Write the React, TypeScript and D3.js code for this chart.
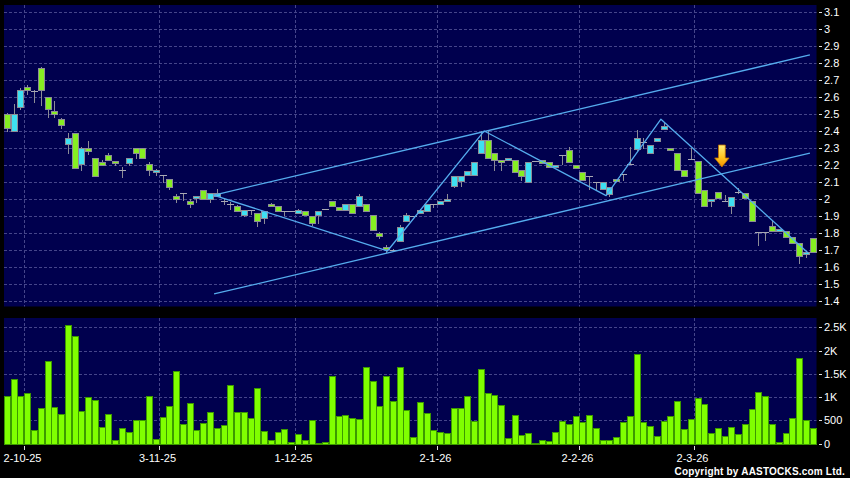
import * as d3 from 'd3';
import React from 'react';

// daily bars, Sep 29 2025 .. Mar 26 2026 (index 0..119)
const opens = [
  2.50, 2.40, 2.545, 2.66, 2.635, 2.775, 2.60, 2.52, 2.475, 2.325,
  2.39, 2.205, 2.30, 2.24, 2.22, 2.26, 2.225, 2.175, 2.215, 2.30,
  2.30, 2.205, 2.16, 2.145, 2.12, 2.02, 2.04, 1.99, 2.005, 2.055,
  2.00, 2.02, 1.99, 1.975, 1.96, 1.905, 1.94, 1.92, 1.89, 1.975,
  1.96, 1.93, 1.93, 1.92, 1.93, 1.90, 1.905, 1.945, 1.99, 1.955,
  1.94, 1.975, 1.96, 1.975, 1.905, 1.80, 1.72, 1.70, 1.755, 1.87,
  1.90, 1.92, 1.93, 1.97, 1.975, 1.99, 2.08, 2.11, 2.145, 2.145,
  2.275, 2.35, 2.27, 2.23, 2.23, 2.23, 2.175, 2.10, 2.225, 2.23,
  2.22, 2.19, 2.26, 2.29, 2.20, 2.16, 2.135, 2.10, 2.06, 2.03,
  2.12, 2.15, 2.21, 2.295, 2.335, 2.27, 2.345, 2.415, 2.30, 2.275,
  2.17, 2.235, 2.225, 2.055, 1.99, 2.045, 1.99, 1.96, 2.045, 2.04,
  1.99, 1.805, 1.805, 1.845, 1.815, 1.815, 1.78, 1.745, 1.678, 1.77,
];
const highs = [
  2.51, 2.56, 2.655, 2.675, 2.645, 2.78, 2.60, 2.58, 2.48, 2.39,
  2.39, 2.31, 2.345, 2.245, 2.23, 2.27, 2.225, 2.19, 2.245, 2.30,
  2.30, 2.22, 2.18, 2.145, 2.12, 2.03, 2.04, 2.00, 2.02, 2.055,
  2.04, 2.06, 2.00, 1.985, 1.965, 1.94, 1.94, 1.92, 1.93, 1.98,
  1.96, 1.93, 1.93, 1.945, 1.93, 1.90, 1.93, 1.945, 1.99, 1.955,
  1.97, 1.975, 2.03, 1.975, 1.905, 1.81, 1.73, 1.705, 1.85, 1.92,
  1.90, 1.945, 1.975, 1.97, 1.99, 2.03, 2.14, 2.14, 2.165, 2.22,
  2.40, 2.40, 2.27, 2.23, 2.245, 2.23, 2.175, 2.22, 2.225, 2.23,
  2.22, 2.20, 2.26, 2.305, 2.20, 2.16, 2.135, 2.10, 2.10, 2.075,
  2.12, 2.15, 2.31, 2.41, 2.36, 2.32, 2.36, 2.45, 2.30, 2.275,
  2.17, 2.30, 2.225, 2.055, 2.00, 2.045, 2.025, 2.015, 2.065, 2.04,
  1.99, 1.805, 1.805, 1.88, 1.825, 1.815, 1.78, 1.745, 1.69, 1.77,
];
const lows = [
  2.40, 2.40, 2.53, 2.62, 2.575, 2.555, 2.485, 2.485, 2.42, 2.275,
  2.185, 2.175, 2.265, 2.14, 2.20, 2.23, 2.20, 2.13, 2.20, 2.245,
  2.24, 2.145, 2.145, 2.10, 2.06, 1.985, 1.995, 1.955, 1.985, 2.00,
  1.985, 2.02, 1.975, 1.945, 1.93, 1.90, 1.915, 1.845, 1.86, 1.96,
  1.93, 1.905, 1.93, 1.92, 1.905, 1.85, 1.86, 1.945, 1.96, 1.94,
  1.94, 1.92, 1.96, 1.93, 1.82, 1.77, 1.69, 1.695, 1.755, 1.87,
  1.90, 1.92, 1.93, 1.955, 1.975, 1.99, 2.07, 2.08, 2.145, 2.145,
  2.275, 2.245, 2.175, 2.175, 2.23, 2.16, 2.115, 2.10, 2.225, 2.215,
  2.19, 2.19, 2.21, 2.22, 2.185, 2.115, 2.06, 2.055, 2.06, 2.02,
  2.105, 2.115, 2.21, 2.29, 2.30, 2.27, 2.345, 2.415, 2.29, 2.17,
  2.14, 2.235, 2.035, 1.96, 1.96, 2.005, 1.99, 1.92, 2.035, 2.005,
  1.875, 1.73, 1.76, 1.815, 1.815, 1.78, 1.745, 1.625, 1.66, 1.69,
];
const closes = [
  2.42, 2.50, 2.645, 2.64, 2.635, 2.645, 2.53, 2.50, 2.44, 2.36,
  2.185, 2.30, 2.285, 2.14, 2.20, 2.23, 2.215, 2.175, 2.245, 2.275,
  2.24, 2.17, 2.175, 2.145, 2.07, 2.00, 2.04, 1.97, 2.02, 2.00,
  2.04, 2.04, 1.99, 1.975, 1.93, 1.94, 1.94, 1.875, 1.93, 1.96,
  1.93, 1.93, 1.93, 1.935, 1.905, 1.86, 1.93, 1.945, 1.96, 1.94,
  1.97, 1.92, 2.02, 1.93, 1.82, 1.785, 1.705, 1.70, 1.84, 1.905,
  1.90, 1.935, 1.975, 1.97, 1.99, 2.00, 2.14, 2.14, 2.165, 2.22,
  2.35, 2.245, 2.23, 2.22, 2.245, 2.16, 2.14, 2.22, 2.225, 2.215,
  2.19, 2.20, 2.26, 2.22, 2.185, 2.115, 2.135, 2.10, 2.10, 2.075,
  2.105, 2.15, 2.21, 2.36, 2.335, 2.32, 2.36, 2.43, 2.29, 2.17,
  2.14, 2.235, 2.035, 1.96, 2.00, 2.005, 1.99, 2.015, 2.045, 2.005,
  1.875, 1.805, 1.805, 1.815, 1.825, 1.78, 1.745, 1.665, 1.69, 1.69,
];
const volumes = [
  1028, 1388, 1021, 1079, 280, 762, 1783, 776, 640, 2545,
  2308, 690, 992, 935, 360, 625, 86, 324, 252, 503,
  503, 1021, 93, 561, 805, 1567, 410, 863, 288, 439,
  676, 331, 395, 1251, 676, 669, 539, 1186, 273, 72,
  244, 309, 36, 201, 86, 496, 7, 22, 1445, 590,
  611, 546, 532, 1654, 1345, 798, 1452, 913, 1639, 719,
  144, 884, 665, 280, 252, 230, 769, 769, 1028, 482,
  1596, 1079, 1043, 820, 122, 604, 173, 216, 7, 65,
  50, 252, 489, 424, 597, 460, 618, 331, 86, 86,
  137, 453, 597, 1920, 453, 381, 165, 482, 590, 906,
  316, 532, 971, 841, 223, 338, 165, 352, 201, 410,
  733, 1100, 1014, 410, 36, 223, 546, 1848, 496, 338,
];

const xTickIndex = [2, 22, 42, 63, 84, 101];
const xTickLabels = ['2-10-25', '3-11-25', '1-12-25', '2-1-26', '2-2-26', '2-3-26'];
const priceTicks = d3.range(14, 32).map((v) => v / 10);
const volTicks = [0, 500, 1000, 1500, 2000, 2500];
const volTickLabels = ['0', '500', '1K', '1.5K', '2K', '2.5K'];

// drawn annotations: [bar index, price]
const channelUpper: [number, number][] = [[30.6, 2.025], [118.6, 2.849]];
const channelLower: [number, number][] = [[30.6, 1.443], [118.6, 2.272]];
const zigzag: [number, number][] = [
  [30.5, 2.025], [56.2, 1.696], [70.5, 2.402], [88.5, 2.022], [96.6, 2.471], [118.3, 1.686],
];
const arrowAt: [number, number] = [105.6, 2.19];

const W = 850;
const H = 478;
const LEFT = 4;
const RIGHT = 816.5;
const PRICE_TOP = 5;
const PRICE_BOTTOM = 306.5;
const VOL_TOP = 318;
const VOL_BOTTOM = 444.5;

const GREEN = '#86ee22';
const CYAN = '#3ee0f2';
const EDGE = '#8c8c96';
const GRID = '#45458a';
const PANEL = '#00004e';
const LINE = '#55acee';
const FONT = '"Liberation Sans", Arial, sans-serif';

const snap = (v: number) => Math.round(v) + 0.5;

export default function App() {
  const idx = d3.range(opens.length);
  const x = d3.scaleBand<number>().domain(idx).range([3.5, 816]).paddingInner(0.12).paddingOuter(0.06);
  const xl = d3.scaleLinear().domain([-0.5, idx.length - 0.5]).range([3.5, 816]);
  const cx = (i: number) => (x(i) ?? 0) + x.bandwidth() / 2;
  const yP = d3.scaleLinear().domain([1.4, 3.1]).range([301.3, 12.3]);
  const yV = d3.scaleLinear().domain([0, 2500]).range([443.5, 327.3]);

  const line = d3.line<[number, number]>().x((d) => xl(d[0])).y((d) => yP(d[1]));

  const gridX = xTickIndex.map((k) => snap(xl(k + 0.5)));

  const [ai, ap] = arrowAt;
  const ax = xl(ai);
  const ay = yP(ap);
  const arrowPath = `M${ax - 3.4},${ay - 22} L${ax + 3.4},${ay - 22} L${ax + 3.4},${ay - 9} L${ax + 7.2},${ay - 9} L${ax},${ay} L${ax - 7.2},${ay - 9} L${ax - 3.4},${ay - 9} Z`;

  return (
    <svg width={W} height={H} style={{ position: 'fixed', left: 0, top: 0, display: 'block' }} fontFamily={FONT}>
      <defs>
        <linearGradient id="arrowFill" x1="0" y1="0" x2="0" y2="1">
          <stop offset="0" stopColor="#fff07a" />
          <stop offset="0.6" stopColor="#ffc21a" />
          <stop offset="1" stopColor="#f09000" />
        </linearGradient>
      </defs>
      <rect width={W} height={H} fill="#000" />

      {/* price panel */}
      <rect x={LEFT} y={PRICE_TOP} width={RIGHT - LEFT} height={PRICE_BOTTOM - PRICE_TOP} fill={PANEL} />
      {priceTicks.map((p) => (
        <line key={'pg' + p} x1={LEFT} x2={RIGHT} y1={snap(yP(p))} y2={snap(yP(p))} stroke={GRID} strokeDasharray="3,2" />
      ))}
      {gridX.map((gx, k) => (
        <line key={'pv' + k} x1={gx} x2={gx} y1={PRICE_TOP} y2={PRICE_BOTTOM} stroke={GRID} strokeDasharray="3,2" />
      ))}

      {/* candles */}
      {idx.map((i) => {
        const c = Math.round(cx(i));
        const o = opens[i];
        const cl = closes[i];
        const wx = c + 0.5;
        const wick = (
          <line x1={wx} x2={wx} y1={Math.round(yP(highs[i]))} y2={Math.round(yP(lows[i])) + 1} stroke={EDGE} />
        );
        if (o === cl) {
          const yy = snap(yP(o));
          return (
            <g key={'c' + i}>
              {wick}
              <line x1={c - 3} x2={c + 4} y1={yy} y2={yy} stroke="#a8a8b4" />
            </g>
          );
        }
        const top = Math.round(yP(Math.max(o, cl)));
        const bot = Math.round(yP(Math.min(o, cl)));
        return (
          <g key={'c' + i}>
            {wick}
            <rect
              x={c - 2.5}
              y={top + 0.5}
              width={6}
              height={Math.max(bot - top, 1)}
              fill={cl > o ? CYAN : GREEN}
              stroke={EDGE}
            />
          </g>
        );
      })}

      {/* trend lines */}
      <g fill="none" stroke={LINE} strokeWidth={1.3}>
        <path d={line(channelUpper) ?? ''} />
        <path d={line(channelLower) ?? ''} />
        <path d={line(zigzag) ?? ''} strokeLinejoin="round" />
      </g>
      <path d={arrowPath} fill="url(#arrowFill)" stroke="#c07000" strokeWidth={0.8} />

      {/* price axis */}
      {priceTicks.map((p) => (
        <g key={'pl' + p}>
          <line x1={819} x2={822} y1={snap(yP(p))} y2={snap(yP(p))} stroke="#ddd" />
          <text x={824} y={yP(p) + 4} fill="#fff" fontSize={11}>
            {String(+p.toFixed(1))}
          </text>
        </g>
      ))}

      {/* volume panel */}
      <rect x={LEFT} y={VOL_TOP} width={RIGHT - LEFT} height={VOL_BOTTOM - VOL_TOP} fill={PANEL} />
      {volTicks.slice(1).map((v) => (
        <line key={'vg' + v} x1={LEFT} x2={RIGHT} y1={snap(yV(v))} y2={snap(yV(v))} stroke={GRID} strokeDasharray="3,2" />
      ))}
      {gridX.map((gx, k) => (
        <line key={'vv' + k} x1={gx} x2={gx} y1={VOL_TOP} y2={VOL_BOTTOM} stroke={GRID} strokeDasharray="3,2" />
      ))}
      {idx.map((i) => {
        const c = Math.round(cx(i));
        const top = Math.round(yV(volumes[i]));
        const base = Math.round(yV(0));
        return (
          <rect
            key={'v' + i}
            x={c - 2.5}
            y={top + 0.5}
            width={6}
            height={Math.max(base - top, 0.5)}
            fill="#80ff00"
            stroke="#3c9a00"
          />
        );
      })}
      {volTicks.map((v, k) => (
        <g key={'vl' + v}>
          <line x1={819} x2={822} y1={snap(yV(v))} y2={snap(yV(v))} stroke="#ddd" />
          <text x={824} y={yV(v) + 4} fill="#fff" fontSize={11}>
            {volTickLabels[k]}
          </text>
        </g>
      ))}

      {/* date axis */}
      {xTickIndex.map((k, j) => (
        <g key={'xt' + k}>
          <line x1={gridX[j]} x2={gridX[j]} y1={446} y2={450} stroke="#ddd" />
          <text x={gridX[j] - 2} y={461.5} fill="#fff" fontSize={11} textAnchor="middle">
            {xTickLabels[j]}
          </text>
        </g>
      ))}

      <text x={845} y={475} fill="#fff" fontSize={10} fontWeight="bold" textAnchor="end" letterSpacing={0.2}>
        Copyright by AASTOCKS.com Ltd.
      </text>
    </svg>
  );
}
